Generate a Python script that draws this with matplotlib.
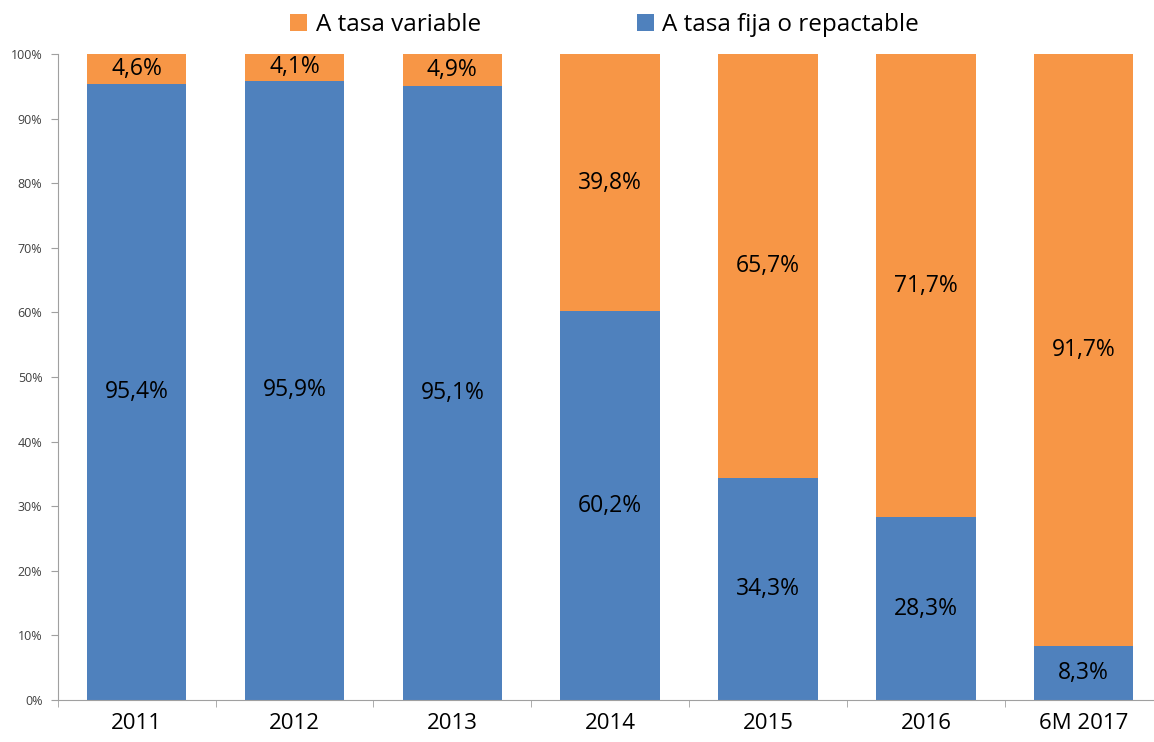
import numpy as np
import matplotlib.pyplot as plt

# datos
categorias = ["2011", "2012", "2013", "2014", "2015", "2016", "6M 2017"]
tasa_fija = [95.4, 95.9, 95.1, 60.2, 34.3, 28.3, 8.3]
tasa_variable = [4.6, 4.1, 4.9, 39.8, 65.7, 71.7, 91.7]
etiquetas_fija = ["95,4%", "95,9%", "95,1%", "60,2%", "34,3%", "28,3%", "8,3%"]
etiquetas_variable = ["4,6%", "4,1%", "4,9%", "39,8%", "65,7%", "71,7%", "91,7%"]

azul = "#4F81BD"
naranja = "#F79646"

plt.rcParams['font.family'] = ['Open Sans', 'DejaVu Sans']

fig = plt.figure(figsize=(11.54, 7.42), dpi=100)
ax = fig.add_axes([0.050, 0.0566, 0.9575, 0.8705])

x = np.arange(len(categorias))
fija = np.array(tasa_fija)
variable = np.array(tasa_variable)
# normalizar a 100%
total = fija + variable
fija_n = fija / total * 100
variable_n = variable / total * 100

b1 = ax.bar(x, fija_n, width=0.63, color=azul, label="A tasa fija o repactable")
b2 = ax.bar(x, variable_n, width=0.63, bottom=fija_n, color=naranja, label="A tasa variable")

for i in range(len(x)):
    ax.text(x[i], fija_n[i] / 2, etiquetas_fija[i], ha="center", va="center", fontsize=16.5, color="black")
    ax.text(x[i], fija_n[i] + variable_n[i] / 2, etiquetas_variable[i], ha="center", va="center", fontsize=16.5, color="black")

ax.set_xlim(-0.5, len(x) - 0.5)
ax.set_ylim(0, 100)
ax.set_yticks(np.arange(0, 101, 10))
ax.set_yticklabels([f"{v}%" for v in range(0, 101, 10)], fontsize=9, color="#404040")
ax.set_xticks(x)
ax.set_xticklabels(categorias, fontsize=16)
# marcas entre categorias
ax.set_xticks(np.arange(-0.5, len(x), 1), minor=True)
ax.tick_params(axis="x", which="major", length=0, pad=9)
ax.tick_params(axis="x", which="minor", length=5, color="#A0A0A0")
ax.tick_params(axis="y", length=5, color="#A0A0A0", pad=6)

for s in ["top", "right"]:
    ax.spines[s].set_visible(False)
ax.spines["left"].set_color("#A0A0A0")
ax.spines["bottom"].set_color("#A0A0A0")

fig.legend(handles=[b2, b1], loc="upper center", bbox_to_anchor=(0.524, 1.012), ncol=2,
           frameon=False, fontsize=17.5, handlelength=0.7, handleheight=0.7,
           handletextpad=0.35, columnspacing=6.4)

plt.savefig("out.png", dpi=100)
